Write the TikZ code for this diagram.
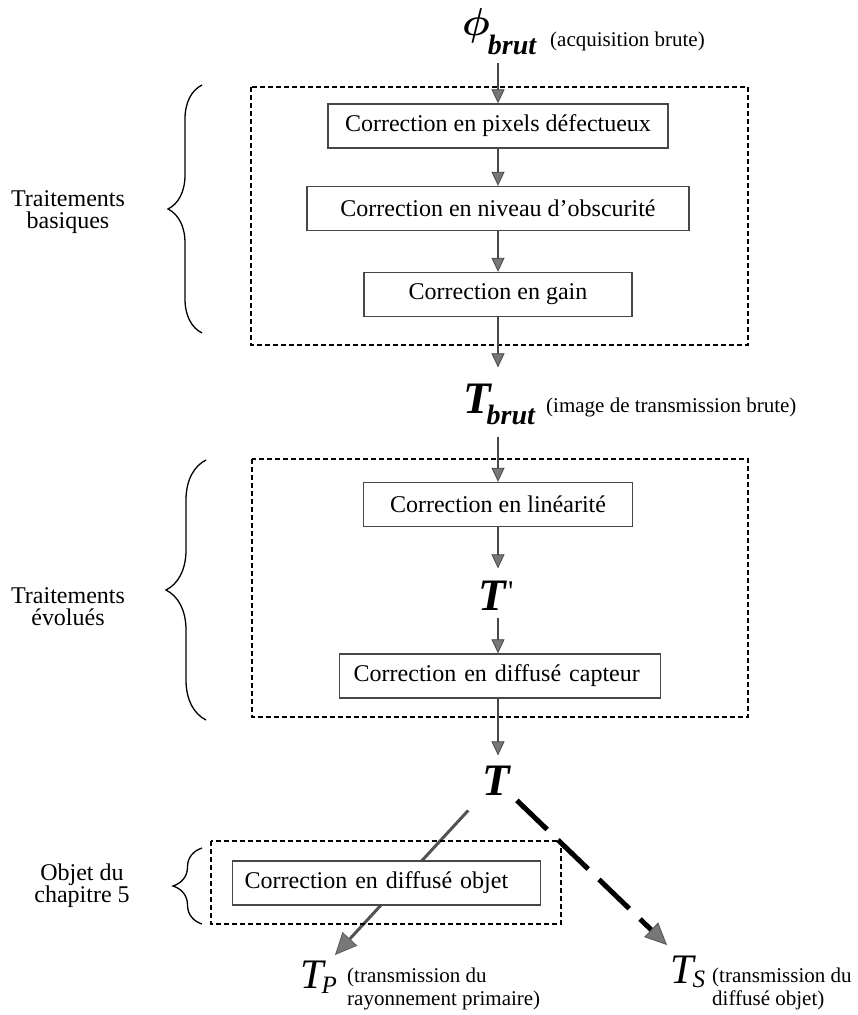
\documentclass[tikz,border=0pt]{standalone}
\usepackage{fontspec}
\usepackage{bm}
\usepackage{graphicx}
\setmainfont{Liberation Serif}
\usetikzlibrary{arrows.meta,decorations.pathreplacing}
\definecolor{linegray}{HTML}{474747}
\definecolor{headgray}{HTML}{777777}
\newcommand{\mysubfont}{\fontsize{28}{28}\selectfont\bfseries\itshape}
\begin{document}
\begin{tikzpicture}[x=1pt,y=-1pt,
  every node/.style={inner sep=0pt},
  procbox/.style={draw=linegray, line width=1.4pt, fill=white, font=\fontsize{24}{26}\selectfont, minimum height=44pt, inner xsep=0pt},
  groupbox/.style={draw=black, line width=1.3pt, dash pattern=on 5pt off 3pt},
  flow/.style={draw=linegray, line width=1.6pt, -{Triangle[length=14pt,width=13pt,fill=headgray,line width=0.8pt]}},
  bigflow/.style={draw=headgray!70!black, line width=3pt, -{Triangle[length=22pt,width=20pt,fill=headgray,color=headgray!75!black,line width=0.8pt]}},
  dflow/.style={draw=black, line width=5pt, dash pattern=on 42pt off 15pt, -{Triangle[length=22pt,width=20pt,fill=headgray,color=headgray!70!black,line width=0.8pt]}},
  side/.style={font=\fontsize{24}{22}\selectfont, align=center},
  note/.style={font=\fontsize{21}{23}\selectfont, align=left, anchor=west},
  brc/.style={draw=black, line width=1.3pt, decorate},
  bigsym/.style={font=\fontsize{45}{45}\selectfont\bfseries\itshape}
]
\useasboundingbox (0,0) rectangle (857,1015);

% ---------- top
\node[anchor=base west] (phi) at (462,35) {\scalebox{3.9}{$\bm{\phi}$}\hspace{-2pt}\raisebox{-19pt}{\mysubfont brut}};
\node[note] (acq) at (550,41) {(acquisition brute)};

% ---------- basic treatments
\draw[groupbox] (251,87) rectangle (748,345);
\node[procbox, minimum width=340pt] (b1) at (498,126) {Correction en pixels défectueux};
\node[procbox, minimum width=382pt] (b2) at (498,208.5) {Correction en niveau d’obscurité};
\node[procbox, minimum width=268pt] (b3) at (498,294.5) {Correction en gain};
\coordinate (a0) at (498,63);
\draw[flow] (a0) -- (b1.north);
\draw[flow] (b1) -- (b2);
\draw[flow] (b2) -- (b3);

\node[side] (lb1) at (68,212) {Traitements\\basiques};
\draw[brc, decoration={brace, amplitude=34pt}] (202,333) -- (202,85);

% ---------- T brut
\node[anchor=base west] (Tb) at (463,413) {\fontsize{45}{45}\selectfont\bfseries\itshape T\hspace{-4pt}\raisebox{-11pt}{\mysubfont brut}};
\node[note] (img) at (546,407) {(image de transmission brute)};
\draw[flow, shorten >=16pt] (b3.south) -- (b3.south |- Tb.north);

% ---------- advanced treatments
\draw[groupbox] (252,459) rectangle (748,717);
\node[procbox, minimum width=269pt] (bl) at (498,504.5) {Correction en linéarité};
\draw[flow, shorten <=12pt] (bl.north |- Tb.south) -- (bl.north);
\node[anchor=base, bigsym] (Tq) at (496,610) {T\hspace{2pt}\raisebox{9pt}{\fontsize{30}{30}\selectfont\mdseries\upshape\textquotesingle}};
\draw[flow, shorten >=12pt] (bl.south) -- (bl.south |- Tq.north);
\node[procbox, anchor=west, align=left, text width=293pt, inner xsep=14pt] (bc) at (339,676) {Correction en diffusé capteur};
\draw[flow, shorten <=8pt] (bl.south |- Tq.south) -- (bl.south |- bc.north);

\node[side] (lb2) at (68,607) {Traitements\\évolués};
\draw[brc, decoration={brace, amplitude=40pt}] (206,720) -- (206,460);

% ---------- T
\node[anchor=base, bigsym] (T) at (496,795) {T};
\draw[flow, shorten >=10pt] (bl.south |- bc.south) -- (bl.south |- T.north);

% ---------- split
\coordinate (tp) at (335,955);
\coordinate (ts) at (667,945);
\draw[bigflow, shorten <=41pt] (T.center) -- (tp);
\draw[dflow, shorten <=29pt] (T.center) -- (ts);

\draw[groupbox] (211,841) rectangle (561,924);
\node[procbox, anchor=west, align=left, text width=284pt, inner xsep=12pt] (bo) at (232,883) {Correction en diffusé objet};

\node[side] (lb3) at (82,886) {Objet du\\chapitre 5};
\draw[brc, decoration={brace, amplitude=29pt}] (202,924) -- (202,848);

\node[anchor=base west] (TP) at (300,988) {\fontsize{42}{42}\selectfont\itshape T\hspace{-2pt}\raisebox{-5pt}{\fontsize{25}{25}\selectfont P}};
\node[note] (lp) at (347,989) {(transmission du\\rayonnement primaire)};
\node[anchor=base west] (TS) at (670,983) {\fontsize{42}{42}\selectfont\itshape T\hspace{-1pt}\raisebox{-4pt}{\fontsize{25}{25}\selectfont S}};
\node[note] (ls) at (712,989) {(transmission du\\diffusé objet)};
\end{tikzpicture}
\end{document}
